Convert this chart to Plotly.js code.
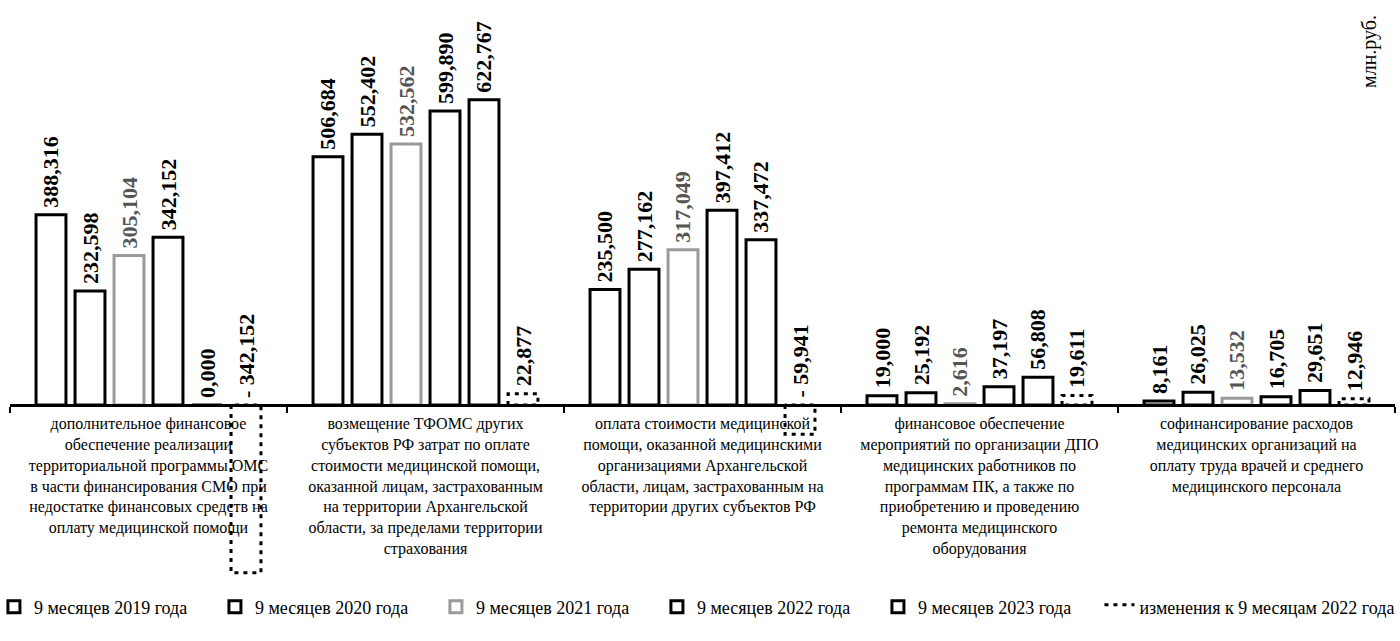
<!DOCTYPE html>
<html><head><meta charset="utf-8">
<script src="https://cdn.plot.ly/plotly-3.0.1.min.js"></script>
<style>body{margin:0;background:#fff}#chart{width:1400px;height:641px}</style>
</head><body><div id="chart"></div>
<script>
const categories = [
  'дополнительное финансовое<br>обеспечение реализации<br>территориальной программы ОМС<br>в части финансирования СМО при<br>недостатке финансовых средств на<br>оплату медицинской помощи',
  'возмещение ТФОМС других<br>субъектов РФ затрат по оплате<br>стоимости медицинской помощи,<br>оказанной лицам, застрахованным<br>на территории Архангельской<br>области, за пределами территории<br>страхования',
  'оплата стоимости медицинской<br>помощи, оказанной медицинскими<br>организациями Архангельской<br>области, лицам, застрахованным на<br>территории других субъектов РФ',
  'финансовое обеспечение<br>мероприятий по организации ДПО<br>медицинских работников по<br>программам ПК, а также по<br>приобретению и проведению<br>ремонта медицинского<br>оборудования',
  'софинансирование расходов<br>медицинских организаций на<br>оплату труда врачей и среднего<br>медицинского персонала'
];
const seriesNames = ['9 месяцев 2019 года','9 месяцев 2020 года','9 месяцев 2021 года','9 месяцев 2022 года','9 месяцев 2023 года','изменения к 9 месяцам 2022 года'];
const v2019 = [388.316, 506.684, 235.500, 19.000, 8.161];
const v2020 = [232.598, 552.402, 277.162, 25.192, 26.025];
const v2021 = [305.104, 532.562, 317.049, 2.616, 13.532];
const v2022 = [342.152, 599.890, 397.412, 37.197, 16.705];
const v2023 = [0.000, 622.767, 337.472, 56.808, 29.651];
const vChange = [-342.152, 22.877, -59.941, 19.611, 12.946];
const unitLabel = 'млн.руб.';

const allSeries = [v2019, v2020, v2021, v2022, v2023, vChange];
const xIdx = categories.map((c, i) => i);
const W = 0.108, PITCH = 0.1408;
const OFF0 = -(5 * PITCH + W) / 2;
const offsets = allSeries.map((s, k) => OFF0 + k * PITCH);
const lineColors = ['#000', '#000', '#9a9a9a', '#000', '#000'];

const traces = [];
for (let k = 0; k < 5; k++) {
  traces.push({
    type: 'bar', name: seriesNames[k], x: xIdx, y: allSeries[k],
    offset: offsets[k], width: W,
    marker: {color: '#fff', line: {color: lineColors[k], width: 3}},
    hoverinfo: 'skip', legend: 'legend'
  });
}
// dotted outline for change series
const rx = [], ry = [];
vChange.forEach((v, i) => {
  const l = i + offsets[5], r = l + W;
  rx.push(l, l, r, r, l, null);
  ry.push(0, v, v, 0, 0, null);
});
traces.push({
  type: 'scatter', mode: 'lines', name: seriesNames[5], x: rx, y: ry,
  fill: 'toself', fillcolor: 'rgba(255,255,255,0)',
  line: {color: '#000', width: 3, dash: '4px,5px'}, hoverinfo: 'skip',
  legend: 'legend2'
});

const fmt = v => (v < 0 ? '- ' : '') + Math.abs(v).toFixed(3).replace('.', ',');
const annotations = [];
allSeries.forEach((s, k) => {
  s.forEach((v, i) => {
    annotations.push({
      x: i + offsets[k] + W / 2, y: Math.max(v, 0), xref: 'x', yref: 'y',
      text: fmt(v), textangle: -90, showarrow: false,
      xanchor: 'center', yanchor: 'bottom', yshift: 5,
      font: {family: 'Liberation Serif', size: 22, color: k === 2 ? '#555' : '#000', weight: 'bold'}
    });
  });
});
annotations.push({
  x: 1, y: 1, xref: 'paper', yref: 'paper', xanchor: 'right', yanchor: 'top',
  xshift: -12, yshift: -8,
  text: unitLabel, textangle: -90, showarrow: false,
  font: {family: 'Liberation Serif', size: 20, color: '#000'}
});

const K = 0.49;
const yMax = (405 - 5) / K, yMin = -(580 - 405) / K;
const legendFont = {family: 'Liberation Serif', size: 18, color: '#000'};
const layout = {
  width: 1400, height: 641,
  margin: {l: 10, r: 5, t: 5, b: 61, autoexpand: false},
  paper_bgcolor: '#fff', plot_bgcolor: '#fff',
  barmode: 'overlay',
  showlegend: true,
  legend: {orientation: 'h', x: -0.0116, xanchor: 'left', y: -0.047, yanchor: 'middle',
    font: legendFont, itemwidth: 30, entrywidth: 176, entrywidthmode: 'pixels'},
  legend2: {orientation: 'h', x: 0.7866, xanchor: 'left', y: -0.047, yanchor: 'middle',
    font: legendFont, itemwidth: 30},
  xaxis: {
    range: [-0.5, 4.5], tickvals: xIdx, ticktext: categories,
    showgrid: false, zeroline: false, showline: true, linecolor: '#000', linewidth: 3,
    ticks: '', anchor: 'free', position: -yMin / (yMax - yMin),
    tickfont: {family: 'Liberation Serif', size: 16, color: '#000'},
    ticklabelstandoff: 3,
    minor: {tickvals: [-0.5, 0.5, 1.5, 2.5, 3.5, 4.5], ticks: 'outside', ticklen: 6, tickwidth: 2, tickcolor: '#000'}
  },
  yaxis: {range: [yMin, yMax], visible: false, showgrid: false, zeroline: false},
  annotations: annotations
};
Plotly.newPlot('chart', traces, layout, {displayModeBar: false, staticPlot: true});
</script></body></html>
